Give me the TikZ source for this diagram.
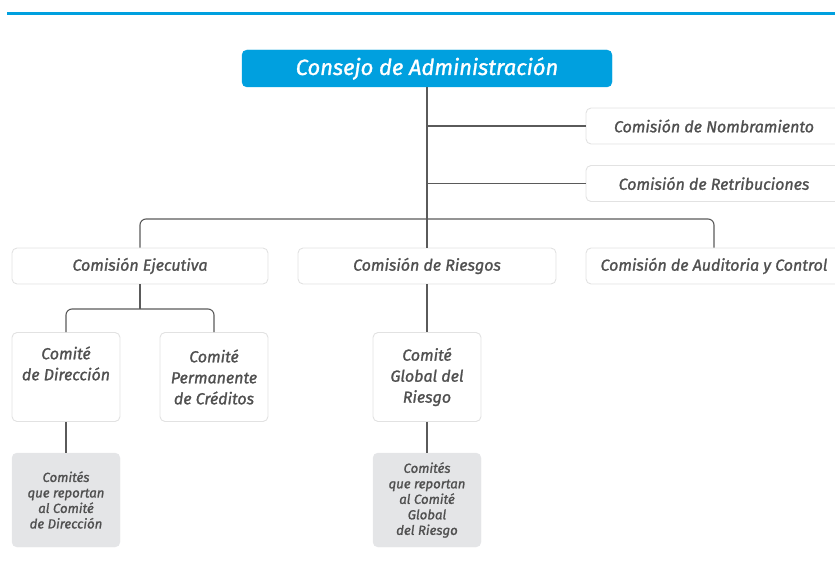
\documentclass[tikz,border=0pt]{standalone}
\usepackage{fontspec}
\setmainfont{Fira Sans}[ItalicFeatures={FakeBold=1.3}]
\definecolor{bblue}{RGB}{0,160,223}
\definecolor{bordc}{RGB}{226,226,226}
\definecolor{grayfill}{RGB}{228,229,231}
\definecolor{txtc}{RGB}{80,80,80}
\definecolor{linec}{RGB}{90,90,90}
\tikzset{
  wbox/.style={draw=bordc, line width=0.9pt, fill=white, rounded corners=5pt, text=txtc,
    font=\fontsize{16}{18}\selectfont\itshape, inner sep=0pt, align=center},
  tallbox/.style={wbox, minimum width=108pt, minimum height=89pt, font=\fontsize{16}{21}\selectfont\itshape},
  gbox/.style={draw=grayfill, fill=grayfill, rounded corners=5pt, text=txtc, inner sep=0pt,
    minimum width=108pt, minimum height=94pt, align=center,
    font=\fontsize{13.2}{15.5}\selectfont\itshape},
  conn/.style={draw=linec, line width=1.1pt},
}
\begin{document}
\begin{tikzpicture}[x=1pt,y=-1pt]
\useasboundingbox (0,0) rectangle (835,569);
\clip (0,0) rectangle (835,569);
\draw[bblue, line width=3pt] (7,14) -- (835,14);
% nodes
\node[draw=bblue, fill=bblue, rounded corners=5pt, minimum width=370pt, minimum height=37pt,
  text=white, font=\fontsize{22}{24}\selectfont\itshape, inner sep=0pt] (consejo) at (427,68.5) {Consejo de Administración};
\node[wbox, minimum width=256pt, minimum height=36pt] (nomb) at (714,126) {Comisión de Nombramiento};
\node[wbox, minimum width=256pt, minimum height=36pt] (retr) at (714,183.5) {Comisión de Retribuciones};
\node[wbox, minimum width=256pt, minimum height=36pt] (ejec) at (140,266) {Comisión Ejecutiva};
\node[wbox, minimum width=258pt, minimum height=36pt] (ries) at (427,266) {Comisión de Riesgos};
\node[wbox, minimum width=256pt, minimum height=36pt] (audit) at (714,266) {Comisión de Auditoria y Control};
\node[tallbox] (dir) at (66,377) {Comité\\de Dirección\\\strut};
\node[tallbox] (perm) at (214,377) {Comité\\Permanente\\de Créditos};
\node[tallbox] (glob) at (427,377) {Comité\\Global del\\Riesgo};
\node[gbox] (dirrep) at (66,500) {Comités\\que reportan\\al Comité\\de Dirección};
\node[gbox] (globrep) at (427,500) {Comités\\que reportan\\al Comité\\Global\\del Riesgo};
% connectors
\coordinate (busa) at (0,219);
\coordinate (busb) at (0,309);
\draw[conn] (consejo.south) -- (ries.north);
\draw[conn] (consejo.south |- nomb.west) -- (nomb.west);
\draw[conn] (consejo.south |- retr.west) -- (retr.west);
\draw[conn, rounded corners=6pt] (ejec.north) -- (ejec.north |- busa) -- (audit.north |- busa) -- (audit.north);
\draw[conn] (ejec.south) -- (ejec.south |- busb);
\draw[conn, rounded corners=6pt] (dir.north) -- (dir.north |- busb) -- (perm.north |- busb) -- (perm.north);
\draw[conn] (ries.south) -- (glob.north);
\draw[conn] (dir.south) -- (dirrep.north);
\draw[conn] (glob.south) -- (globrep.north);
\end{tikzpicture}
\end{document}
